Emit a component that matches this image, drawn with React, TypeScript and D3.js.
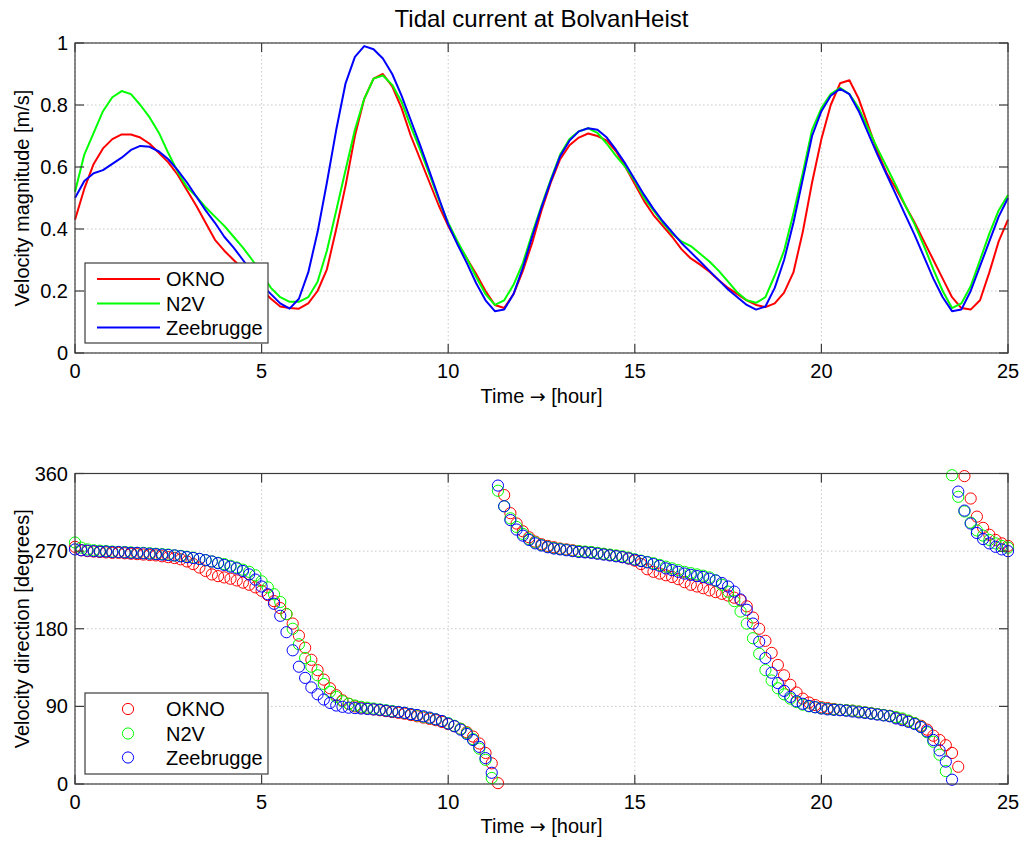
import React from 'react';
import * as d3 from 'd3';

const W = 1027;
const H = 841;
const FONT = '"Liberation Sans", Arial, Helvetica, sans-serif';

// ---- data ----
const seriesNames = ['OKNO', 'N2V', 'Zeebrugge'];
const seriesColors = ['#ff0000', '#00ff00', '#0000ff'];

// time grids (hours)
const hoursLine = d3.range(101).map((i) => i * 0.25);
const hoursDir = d3.range(151).map((i) => i / 6);

// velocity magnitude [m/s], every 0.25 h
const magOKNO = [
  0.43, 0.53, 0.61, 0.66, 0.69, 0.705, 0.705, 0.695,
  0.675, 0.645, 0.615, 0.575,
  0.525, 0.475, 0.42, 0.365,
  0.33, 0.30, 0.27, 0.235,
  0.205, 0.175, 0.15, 0.145,
  0.143, 0.16, 0.2, 0.27,
  0.40, 0.54, 0.70, 0.82,
  0.885, 0.90, 0.86, 0.79,
  0.70, 0.625, 0.55, 0.475,
  0.41, 0.355, 0.305, 0.255,
  0.2, 0.155, 0.145, 0.19,
  0.265, 0.355, 0.46, 0.55,
  0.625, 0.67, 0.695, 0.708,
  0.70, 0.685, 0.65, 0.60,
  0.545, 0.49, 0.445, 0.41,
  0.375, 0.335, 0.305, 0.285,
  0.262, 0.235, 0.21, 0.19,
  0.17, 0.155, 0.148, 0.16,
  0.195, 0.26, 0.39, 0.55,
  0.69, 0.80, 0.87, 0.88,
  0.82, 0.735, 0.65, 0.58,
  0.53, 0.475, 0.42, 0.36,
  0.30, 0.24, 0.18, 0.145,
  0.14, 0.17, 0.26, 0.36,
  0.43,
];
const magN2V = [
  0.52, 0.64, 0.71, 0.78, 0.825, 0.845, 0.835, 0.80,
  0.76, 0.71, 0.645, 0.585,
  0.535, 0.505, 0.47, 0.44,
  0.41, 0.375, 0.34, 0.30,
  0.255, 0.21, 0.18, 0.165,
  0.165, 0.18, 0.23, 0.33,
  0.46, 0.59, 0.72, 0.82,
  0.885, 0.895, 0.865, 0.81,
  0.73, 0.655, 0.575, 0.495,
  0.42, 0.36, 0.305, 0.245,
  0.19, 0.155, 0.17, 0.22,
  0.29, 0.385, 0.475, 0.56,
  0.64, 0.69, 0.715, 0.725,
  0.71, 0.675, 0.635, 0.60,
  0.555, 0.50, 0.46, 0.42,
  0.385, 0.36, 0.345, 0.32,
  0.295, 0.265, 0.23, 0.195,
  0.17, 0.162, 0.18, 0.25,
  0.33, 0.45, 0.58, 0.72,
  0.79, 0.835, 0.855, 0.835,
  0.79, 0.725, 0.66, 0.60,
  0.54, 0.475, 0.415, 0.345,
  0.27, 0.2, 0.145, 0.16,
  0.215, 0.30, 0.385, 0.46,
  0.51,
];
const magZeebrugge = [
  0.50, 0.555, 0.58, 0.59, 0.61, 0.63, 0.655, 0.668,
  0.665, 0.65, 0.625, 0.59,
  0.55, 0.505, 0.46, 0.42,
  0.375, 0.34, 0.30, 0.26,
  0.22, 0.19, 0.16, 0.143,
  0.175, 0.26, 0.39, 0.55,
  0.72, 0.87, 0.955, 0.99,
  0.98, 0.95, 0.90, 0.83,
  0.75, 0.67, 0.585, 0.50,
  0.415, 0.35, 0.29, 0.225,
  0.17, 0.135, 0.14, 0.19,
  0.275, 0.375, 0.47, 0.555,
  0.635, 0.685, 0.715, 0.725,
  0.72, 0.695, 0.655, 0.61,
  0.56, 0.51, 0.465, 0.425,
  0.39, 0.355, 0.325, 0.295,
  0.265, 0.235, 0.205, 0.18,
  0.155, 0.14, 0.15, 0.21,
  0.30, 0.42, 0.56, 0.70,
  0.78, 0.83, 0.852, 0.835,
  0.78, 0.71, 0.64, 0.575,
  0.51, 0.445, 0.38, 0.31,
  0.24, 0.18, 0.135, 0.14,
  0.2, 0.28, 0.36, 0.44,
  0.50,
];

// velocity direction [degrees], every 10 minutes
const dirOKNO = [
  275, 271, 270, 269.5, 269, 268.5,
  268, 268, 267.5, 267, 266.5, 266,
  265.5, 265, 264, 263, 262, 260.5,
  258, 255, 251, 247, 243, 241,
  239.5, 238, 236, 233.5, 231, 228,
  224, 219, 212, 204, 197, 186,
  172, 158, 144, 132, 121, 111,
  103, 97, 93, 90, 88.5, 87.5,
  86.5, 85.5, 84.5, 83.5, 82.5, 81.5,
  80, 78.5, 77, 75.5, 74, 72,
  69.5, 67, 64, 60, 55, 47,
  36, 24, 1, 335, 314, 302,
  293, 286, 281, 278, 276, 274.5,
  273, 272, 271, 270, 269, 268.5,
  267.5, 266.5, 265.5, 264.5, 263, 261.5,
  259, 255, 249, 246, 244, 242,
  240, 237.5, 234, 231, 229, 227,
  224.5, 222.5, 220.5, 218.5, 216, 213,
  206, 193, 180, 166, 152, 138,
  126, 115, 106, 99, 94.5, 91.5,
  89, 88, 87, 86, 85.5, 85,
  84, 83, 82, 81, 80, 79,
  77, 75, 73, 70.5, 67.5, 63,
  56, 51, 45, 36, 20, 357,
  331, 310, 297, 289, 283, 279,
  276,
];
const dirN2V = [
  280, 274, 272, 271, 270.5, 270,
  269.5, 269, 269, 268.5, 268, 268,
  267.5, 267, 266.5, 266, 265, 264.5,
  263.5, 262.5, 261, 259.5, 258, 256.5,
  255, 253, 251, 248.5, 246, 242,
  235, 228, 220, 211, 197, 180,
  162, 146, 136, 126, 116, 107,
  101, 96, 93, 91, 89.5, 88.5,
  87.5, 86.5, 85.5, 84.5, 83.5, 82.5,
  81, 79.5, 78, 76.5, 75, 73,
  70.5, 67.5, 64, 59, 52, 41,
  28, 7, 340, 322, 308, 298,
  290, 284, 280, 277, 275, 273.5,
  272.5, 271.5, 270.5, 270, 269.5, 269,
  268, 267, 266, 265, 264, 262.5,
  260.5, 259, 257.5, 256, 254, 252,
  250, 248, 246, 244.5, 243, 241.5,
  239.5, 236, 231, 223, 212, 200,
  186, 169, 151, 132, 120, 111,
  104, 99, 95, 92, 90, 89,
  88, 87, 86.5, 86, 85.5, 85,
  84, 83, 82, 81, 80, 79,
  77.5, 76, 73.5, 70.5, 66.5, 60,
  49, 34, 15, 358, 333, 316,
  303, 294, 288, 283, 279, 276,
  274,
];
const dirZeebrugge = [
  272, 271, 270.5, 270, 269.5, 269.5,
  269, 269, 268.5, 268, 268, 267.5,
  267, 266.5, 266, 265.5, 265, 264,
  263, 262, 261, 259.5, 258, 256,
  254, 252, 250, 247, 243, 237,
  229, 220, 209, 195, 176, 155,
  136, 123, 112, 104, 98, 94,
  91, 89.5, 88.5, 88, 87.5, 87,
  86.5, 86, 85, 84, 83.5, 82.5,
  81, 80, 78.5, 77, 75, 73,
  70, 67, 63, 58, 51, 43,
  30, 13, 346, 322, 306, 295,
  288, 283, 279, 276.5, 274.5, 273,
  272, 271, 270, 269, 268.5, 268,
  267, 266, 265, 264, 263, 261.5,
  260, 258.5, 257, 255, 253, 250,
  248, 246, 244, 242.5, 241, 240,
  238, 236, 233, 229, 223, 214,
  202, 186, 165, 146, 129, 117,
  108, 101, 96, 93, 90.5, 89,
  87.5, 86.5, 86, 85.5, 85, 84,
  83, 82.5, 81.5, 80.5, 79.5, 78.5,
  76, 74, 72, 69.5, 66, 61,
  51, 39, 26, 5, 339, 317,
  302, 291, 284, 279, 275, 272,
  270,
];

const xTicks = [0, 5, 10, 15, 20, 25];
const magTicks = [0, 0.2, 0.4, 0.6, 0.8, 1];
const dirTicks = [0, 90, 180, 270, 360];

const titleText = 'Tidal current at BolvanHeist';
const xLabelPre = 'Time ';
const xLabelArrow = '\u2192';
const xLabelPost = ' [hour]';
const magLabelText = 'Velocity magnitude [m/s]';
const dirLabelText = 'Velocity direction [degrees]';

// ---- layout ----
const LEFT = 75;
const RIGHT = 1008;
const TOP1 = 43;
const BOT1 = 353;
const TOP2 = 473.5;
const BOT2 = 784;
const AXC = '#3c3c3c';
const GRIDC = '#c8c8c8';
const TICKLEN = 9;

const x = d3.scaleLinear().domain([0, 25]).range([LEFT, RIGHT]);
const yMag = d3.scaleLinear().domain([0, 1]).range([BOT1, TOP1]);
const yDir = d3.scaleLinear().domain([0, 360]).range([BOT2, TOP2]);

const magSeries = [magOKNO, magN2V, magZeebrugge];
const dirSeries = [dirOKNO, dirN2V, dirZeebrugge];

function Frame({ y, yTicks, top, bottom }: any) {
  return (
    <g>
      {xTicks.map((t) => (
        <line key={'gx' + t} x1={x(t)} x2={x(t)} y1={top} y2={bottom}
          stroke={GRIDC} strokeWidth={1} strokeDasharray="1.5,2.5" />
      ))}
      {yTicks.map((t: number) => (
        <line key={'gy' + t} x1={LEFT} x2={RIGHT} y1={y(t)} y2={y(t)}
          stroke={GRIDC} strokeWidth={1} strokeDasharray="1.5,2.5" />
      ))}
    </g>
  );
}

function Box({ y, yTicks, top, bottom, fmt }: any) {
  return (
    <g>
      <rect x={LEFT} y={top} width={RIGHT - LEFT} height={bottom - top}
        fill="none" stroke={AXC} strokeWidth={1.2} />
      {xTicks.map((t) => (
        <g key={'tx' + t}>
          <line x1={x(t)} x2={x(t)} y1={bottom} y2={bottom - TICKLEN} stroke={AXC} strokeWidth={1.2} />
          <line x1={x(t)} x2={x(t)} y1={top} y2={top + TICKLEN} stroke={AXC} strokeWidth={1.2} />
          <text x={x(t)} y={bottom + 18} textAnchor="middle" dominantBaseline="central"
            fontSize={20} fontFamily={FONT} fill="#000">{t}</text>
        </g>
      ))}
      {yTicks.map((t: number) => (
        <g key={'ty' + t}>
          <line x1={LEFT} x2={LEFT + TICKLEN} y1={y(t)} y2={y(t)} stroke={AXC} strokeWidth={1.2} />
          <line x1={RIGHT} x2={RIGHT - TICKLEN} y1={y(t)} y2={y(t)} stroke={AXC} strokeWidth={1.2} />
          <text x={LEFT - 7} y={y(t)} textAnchor="end" dominantBaseline="central"
            fontSize={20} fontFamily={FONT} fill="#000">{fmt(t)}</text>
        </g>
      ))}
    </g>
  );
}

function XLabel({ y }: any) {
  return (
    <text x={(LEFT + RIGHT) / 2} y={y} textAnchor="middle" dominantBaseline="central"
      fontSize={20} fontFamily={FONT} fill="#000">
      {xLabelPre}
      <tspan fontFamily='"DejaVu Sans", sans-serif' fontSize={19}>{xLabelArrow}</tspan>
      {xLabelPost}
    </text>
  );
}

export default function App() {
  const line = d3.line<number>()
    .x((_, i) => x(hoursLine[i]))
    .y((d) => yMag(d));

  const leg1 = { x: 85, y: 263, w: 183, h: 80 };
  const leg2 = { x: 85, y: 693, w: 183, h: 81 };
  const rowOff = [16, 40.5, 64.5];

  return (
    <svg width={W} height={H} style={{ position: 'absolute', left: 0, top: 0, background: '#fff' }}
      xmlns="http://www.w3.org/2000/svg">
      <rect x={0} y={0} width={W} height={H} fill="#fff" />
      <text x={(LEFT + RIGHT) / 2} y={18} textAnchor="middle" dominantBaseline="central"
        fontSize={24} fontFamily={FONT} fill="#000">{titleText}</text>

      {/* top panel */}
      <Frame y={yMag} yTicks={magTicks} top={TOP1} bottom={BOT1} />
      {magSeries.map((s, k) => (
        <path key={'m' + k} d={line(s) || ''} fill="none" stroke={seriesColors[k]}
          strokeWidth={2} strokeLinejoin="round" />
      ))}
      <Box y={yMag} yTicks={magTicks} top={TOP1} bottom={BOT1} fmt={(v: number) => String(v)} />
      <XLabel y={396} />
      <text transform={`translate(22,${(TOP1 + BOT1) / 2}) rotate(-90)`} textAnchor="middle"
        dominantBaseline="central" fontSize={20} fontFamily={FONT} fill="#000">{magLabelText}</text>
      <g>
        <rect x={leg1.x} y={leg1.y} width={leg1.w} height={leg1.h} fill="#fff" stroke={AXC} strokeWidth={1.2} />
        {seriesNames.map((n, k) => (
          <g key={'l1' + n}>
            <line x1={97} x2={160} y1={leg1.y + rowOff[k]} y2={leg1.y + rowOff[k]}
              stroke={seriesColors[k]} strokeWidth={2} />
            <text x={166} y={leg1.y + rowOff[k]} dominantBaseline="central" fontSize={20}
              fontFamily={FONT} fill="#000">{n}</text>
          </g>
        ))}
      </g>

      {/* bottom panel */}
      <Frame y={yDir} yTicks={dirTicks} top={TOP2} bottom={BOT2} />
      {dirSeries.map((s, k) => (
        <g key={'d' + k}>
          {s.map((v, i) => (
            <circle key={i} cx={x(hoursDir[i])} cy={yDir(v)} r={5.6} fill="none"
              stroke={seriesColors[k]} strokeWidth={1} />
          ))}
        </g>
      ))}
      <Box y={yDir} yTicks={dirTicks} top={TOP2} bottom={BOT2} fmt={(v: number) => String(v)} />
      <XLabel y={826} />
      <text transform={`translate(22,${(TOP2 + BOT2) / 2}) rotate(-90)`} textAnchor="middle"
        dominantBaseline="central" fontSize={20} fontFamily={FONT} fill="#000">{dirLabelText}</text>
      <g>
        <rect x={leg2.x} y={leg2.y} width={leg2.w} height={leg2.h} fill="#fff" stroke={AXC} strokeWidth={1.2} />
        {seriesNames.map((n, k) => (
          <g key={'l2' + n}>
            <circle cx={128} cy={leg2.y + rowOff[k]} r={5.6} fill="none"
              stroke={seriesColors[k]} strokeWidth={1} />
            <text x={166} y={leg2.y + rowOff[k]} dominantBaseline="central" fontSize={20}
              fontFamily={FONT} fill="#000">{n}</text>
          </g>
        ))}
      </g>
    </svg>
  );
}
